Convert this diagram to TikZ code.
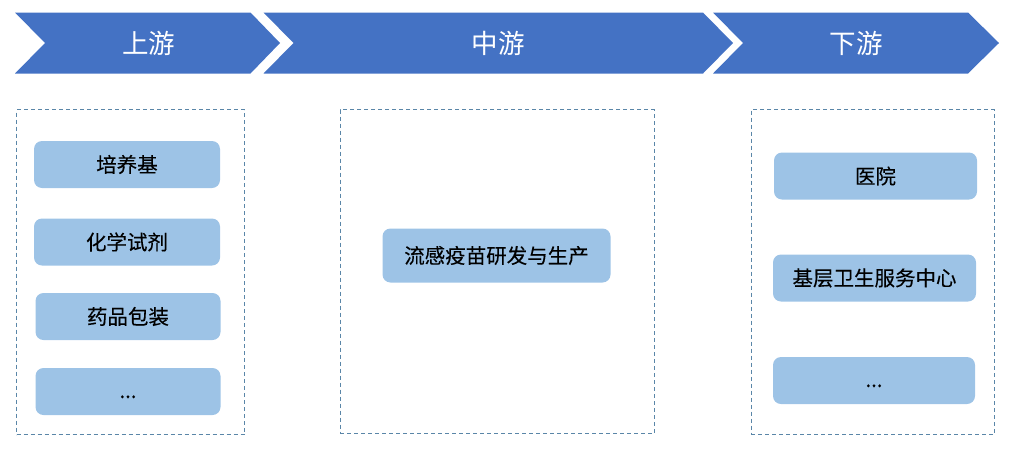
\documentclass[tikz,border=0pt]{standalone}
\usepackage{fontspec}
\setmainfont{Noto Sans CJK SC}
\newfontfamily\itemfont{Noto Sans CJK SC}[FakeBold=0.2]
\begin{document}
\begin{tikzpicture}[x=1pt,y=-1pt,
  chev/.style={fill=chevblue,draw=none},
  headlbl/.style={text=white,font=\fontsize{26.5}{30}\selectfont,inner sep=0pt},
  group/.style={draw=dashblue,line width=0.9pt,dash pattern=on 4pt off 3pt,fill=none,inner sep=0pt},
  item/.style={fill=itemblue,draw=none,rounded corners=8pt,inner sep=0pt,text=black,font=\itemfont\fontsize{20.5}{24}\selectfont}
]
\definecolor{chevblue}{HTML}{4472C4}
\definecolor{itemblue}{HTML}{9DC3E6}
\definecolor{dashblue}{HTML}{5A86A8}
\useasboundingbox (0,0) rectangle (1009,453);
% chevrons
\fill[chev] (15,12.5) -- (250.5,12.5) -- (280,43) -- (250.5,73.5) -- (15,73.5) -- (45,43) -- cycle;
\fill[chev] (263.5,12.5) -- (703,12.5) -- (733,43) -- (703,73.5) -- (263.5,73.5) -- (293.5,43) -- cycle;
\fill[chev] (713,12.5) -- (968,12.5) -- (999,43) -- (968,73.5) -- (713,73.5) -- (743,43) -- cycle;
\node[headlbl] (up) at (148.5,43) {上游};
\node[headlbl] (mid) at (498,43) {中游};
\node[headlbl] (down) at (856,43) {下游};
% groups
\node[group,minimum width=228pt,minimum height=325pt] (g1) at (130.5,272) {};
\node[group,minimum width=314pt,minimum height=324pt] (g2) at (497,271.5) {};
\node[group,minimum width=243pt,minimum height=325pt] (g3) at (872.5,272) {};
% upstream items
\node[item,minimum width=186pt,minimum height=47pt] (a1) at (127,164.5) {培养基};
\node[item,minimum width=186pt,minimum height=47pt] (a2) at (127,242) {化学试剂};
\node[item,minimum width=185pt,minimum height=47pt] (a3) at (128,316.5) {药品包装};
\node[item,minimum width=185pt,minimum height=47pt] (a4) at (128,391.5) {\smash{\raisebox{-6.5pt}{...}}};
% midstream
\node[item,minimum width=228pt,minimum height=54pt] (b1) at (496.5,255.5) {流感疫苗研发与生产};
% downstream
\node[item,minimum width=203pt,minimum height=47pt] (c1) at (875.5,176) {医院};
\node[item,minimum width=203pt,minimum height=47pt] (c2) at (874.5,278) {基层卫生服务中心};
\node[item,minimum width=202pt,minimum height=47pt] (c3) at (874,380.5) {\smash{\raisebox{-6.5pt}{...}}};
\end{tikzpicture}
\end{document}
